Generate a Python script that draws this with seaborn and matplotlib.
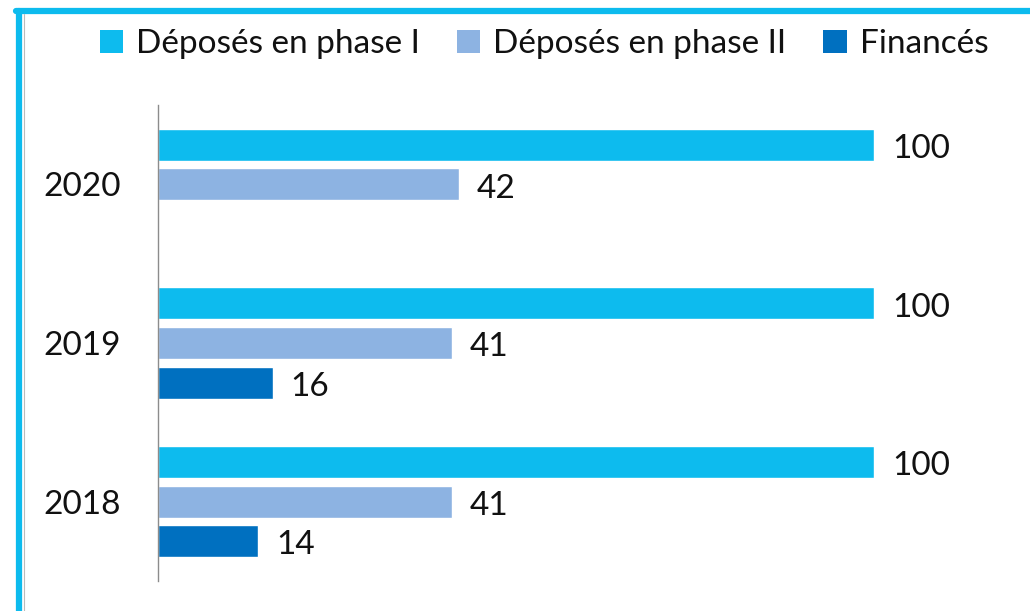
import numpy as np
import pandas as pd
import matplotlib
matplotlib.use("Agg")
import matplotlib.pyplot as plt
import seaborn as sns
from matplotlib.patches import Patch
from matplotlib.lines import Line2D

# data
years = ["2020", "2019", "2018"]
series = ["Déposés en phase I", "Déposés en phase II", "Financés"]
phase1 = [100, 100, 100]
phase2 = [42, 41, 41]
finances = [np.nan, 16, 14]
colors = ["#0DBBEE", "#8DB3E2", "#0070C0"]

df = pd.DataFrame({
    "Année": years * 3,
    "Série": [s for s in series for _ in years],
    "Valeur": phase1 + phase2 + finances,
})

sns.set_theme(style="white")
plt.rcParams["font.family"] = ["Lato", "DejaVu Sans"]

fig = plt.figure(figsize=(10.3, 6.11), dpi=100)
ax = fig.add_axes([158 / 1030, 1 - 581 / 611, 716 / 1030, 476 / 611])

sns.barplot(
    data=df.dropna(), y="Année", x="Valeur", hue="Série",
    order=years, hue_order=series, palette=colors,
    orient="h", width=0.75, gap=0.2, ax=ax, legend=False,
    saturation=1, err_kws={"linewidth": 0},
)

for cont in ax.containers:
    anns = ax.bar_label(cont, labels=[f"{v:.0f}" for v in cont.datavalues],
                        padding=13, fontsize=24, color="#111111")
    for a in anns:
        a.xyann = (13, -3)  # nudge down a little to sit centred on the bar

ax.set_xlim(0, 100)
ax.set_ylim(2.5, -0.5)
ax.set_xlabel("")
ax.set_ylabel("")
ax.set_xticks([])
ax.tick_params(axis="y", length=0, pad=27, labelsize=24, labelcolor="#111111")
for side in ["top", "right", "bottom"]:
    ax.spines[side].set_visible(False)
ax.spines["left"].set_color("#8C8C8C")
ax.spines["left"].set_linewidth(1)

handles = [Patch(facecolor=c, edgecolor="none", label=s) for s, c in zip(series, colors)]
fig.legend(handles=handles, loc="center", bbox_to_anchor=(544 / 1030, 1 - 44 / 611),
           ncol=3, frameon=False, fontsize=24, handlelength=0.7, handleheight=0.7,
           handletextpad=0.4, columnspacing=1.1, labelcolor="#111111")

# cyan frame (left and top edges visible)
fig.add_artist(Line2D([19 / 1030, 19 / 1030], [0, 1 - 11 / 611], color="#0DBBEE", linewidth=4.5))
fig.add_artist(Line2D([16 / 1030, 1], [1 - 11 / 611, 1 - 11 / 611], color="#0DBBEE", linewidth=4.5))
fig.add_artist(Line2D([23.5 / 1030, 23.5 / 1030], [0, 1 - 14 / 611], color="#BBBBBB", linewidth=0.8))

fig.savefig("out.png", dpi=100)
